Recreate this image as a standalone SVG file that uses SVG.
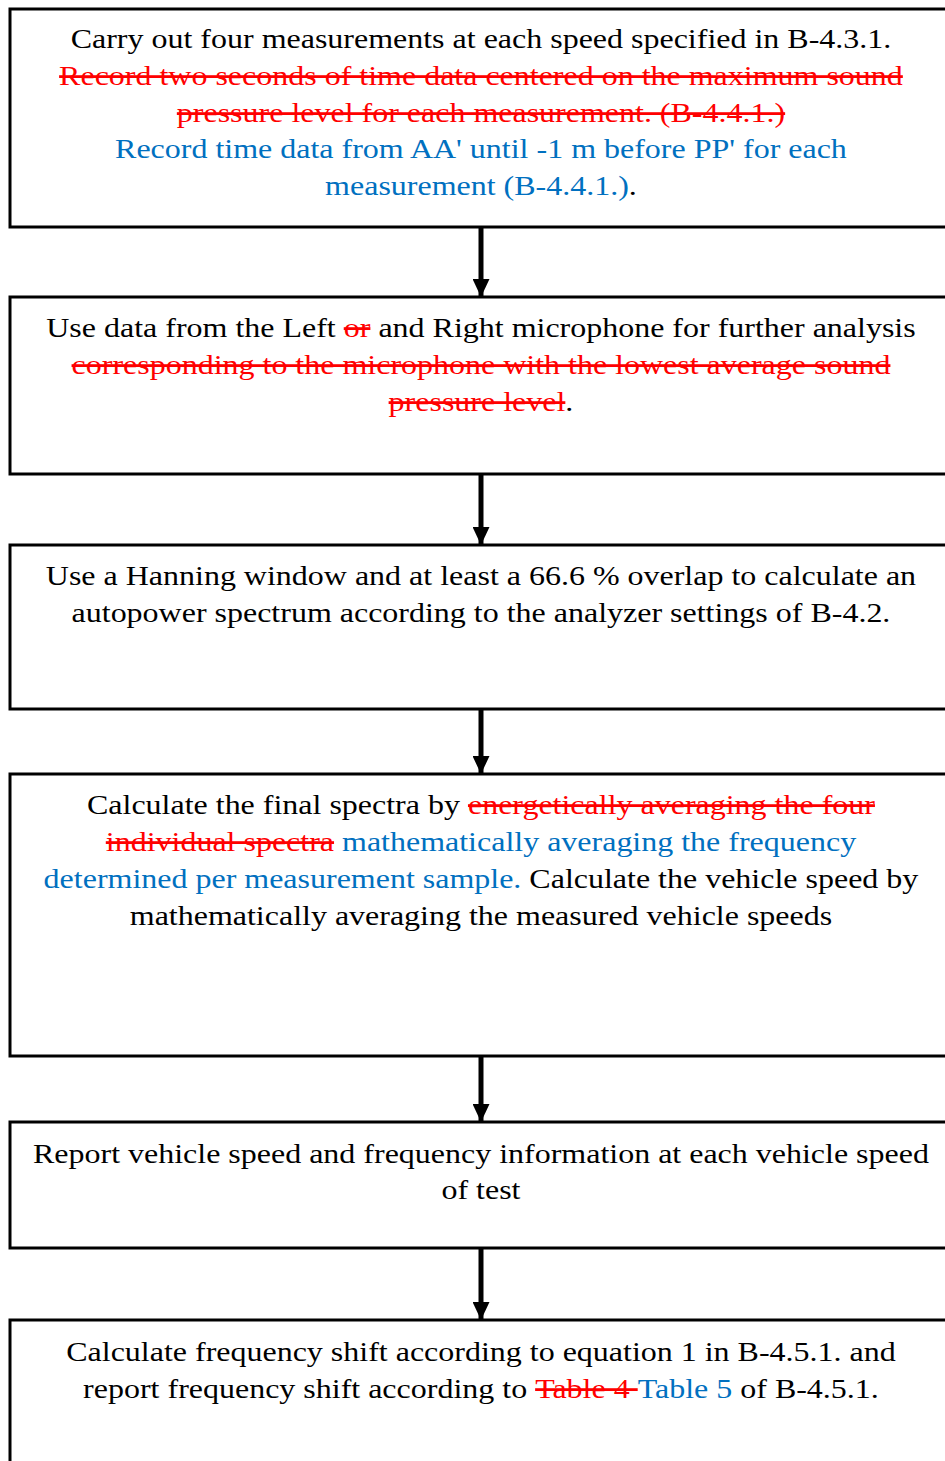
<svg xmlns="http://www.w3.org/2000/svg" width="945" height="1461" viewBox="0 0 945 1461">
<style>
.box{fill:#fff;stroke:#000;stroke-width:3}
.t{font-family:"Liberation Serif","Times New Roman",serif;font-size:28px;fill:#000;text-anchor:middle}
.del{fill:#ff0000;text-decoration:line-through}
.ins{fill:#0070c0}
.conn{stroke:#000;stroke-width:5;fill:none}
</style>
<defs>
<marker id="ah" markerWidth="18" markerHeight="17" refX="17" refY="8.5" orient="auto" markerUnits="userSpaceOnUse">
<path d="M0,0 L18,8.5 L0,17 Z" fill="#000"/>
</marker>
</defs>
<rect width="945" height="1461" fill="#fff"/>
<g id="connectors">
<line class="conn" x1="481" y1="227" x2="481" y2="296" marker-end="url(#ah)"/>
<line class="conn" x1="481" y1="474" x2="481" y2="544" marker-end="url(#ah)"/>
<line class="conn" x1="481" y1="709" x2="481" y2="773" marker-end="url(#ah)"/>
<line class="conn" x1="481" y1="1056" x2="481" y2="1121" marker-end="url(#ah)"/>
<line class="conn" x1="481" y1="1248" x2="481" y2="1319" marker-end="url(#ah)"/>
</g>
<g id="node1">
<rect class="box" x="10" y="9" width="960" height="218"/>
<g transform="matrix(1.143,0,0,1,-68.8,0)">
<text class="t" x="481" y="48">Carry out four measurements at each speed specified in B-4.3.1.</text>
<text class="t" x="481" y="85"><tspan class="del">Record two seconds of time data centered on the maximum sound</tspan></text>
<text class="t" x="481" y="122"><tspan class="del">pressure level for each measurement. (B-4.4.1.)</tspan></text>
<text class="t" x="481" y="158"><tspan class="ins">Record time data from AA' until -1 m before PP' for each</tspan></text>
<text class="t" x="481" y="195"><tspan class="ins">measurement (B-4.4.1.)</tspan>.</text>
</g>
</g>
<g id="node2">
<rect class="box" x="10" y="297" width="960" height="177"/>
<g transform="matrix(1.143,0,0,1,-68.8,0)">
<text class="t" x="481" y="337">Use data from the Left <tspan class="del">or</tspan> and Right microphone for further analysis</text>
<text class="t" x="481" y="374"><tspan class="del">corresponding to the microphone with the lowest average sound</tspan></text>
<text class="t" x="481" y="411"><tspan class="del">pressure level</tspan>.</text>
</g>
</g>
<g id="node3">
<rect class="box" x="10" y="545" width="960" height="164"/>
<g transform="matrix(1.143,0,0,1,-68.8,0)">
<text class="t" x="481" y="585">Use a Hanning window and at least a 66.6 % overlap to calculate an</text>
<text class="t" x="481" y="622">autopower spectrum according to the analyzer settings of B-4.2.</text>
</g>
</g>
<g id="node4">
<rect class="box" x="10" y="774" width="960" height="282"/>
<g transform="matrix(1.143,0,0,1,-68.8,0)">
<text class="t" x="481" y="814">Calculate the final spectra by <tspan class="del">energetically averaging the four</tspan></text>
<text class="t" x="481" y="851"><tspan class="del">individual spectra</tspan> <tspan class="ins">mathematically averaging the frequency</tspan></text>
<text class="t" x="481" y="888"><tspan class="ins">determined per measurement sample.</tspan> Calculate the vehicle speed by</text>
<text class="t" x="481" y="925">mathematically averaging the measured vehicle speeds</text>
</g>
</g>
<g id="node5">
<rect class="box" x="10" y="1122" width="960" height="126"/>
<g transform="matrix(1.143,0,0,1,-68.8,0)">
<text class="t" x="481" y="1163">Report vehicle speed and frequency information at each vehicle speed</text>
<text class="t" x="481" y="1199">of test</text>
</g>
</g>
<g id="node6">
<rect class="box" x="10" y="1320" width="960" height="160"/>
<g transform="matrix(1.143,0,0,1,-68.8,0)">
<text class="t" x="481" y="1361">Calculate frequency shift according to equation 1 in B-4.5.1. and</text>
<text class="t" x="481" y="1398">report frequency shift according to <tspan class="del">Table 4 </tspan><tspan class="ins">Table 5</tspan> of B-4.5.1.</text>
</g>
</g>
</svg>
